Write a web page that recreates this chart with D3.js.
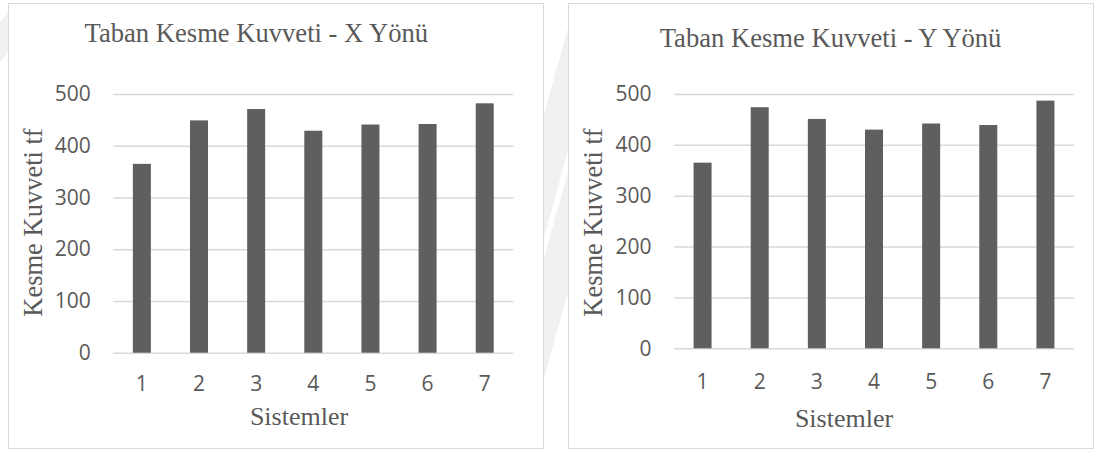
<!DOCTYPE html>
<html>
<head>
<meta charset="utf-8">
<script src="https://cdn.jsdelivr.net/npm/d3@7"></script>
<style>
  html, body { margin: 0; padding: 0; background: #ffffff; }
  svg { display: block; }
  .tick text { font-family: "Open Sans", sans-serif; font-size: 21px; fill: #595959; }
  .serif { font-family: "Liberation Serif", "Times New Roman", serif; fill: #595959; }
</style>
</head>
<body>
<svg id="chart" width="1100" height="452"></svg>
<script>
// Base shear per structural system (tf)
const systems = [1, 2, 3, 4, 5, 6, 7];
const shearX = [365, 449, 471, 429, 441, 442, 482];
const shearY = [365, 474, 451, 430, 442, 439, 487];
const yTicks = [0, 100, 200, 300, 400, 500];

const titleX = "Taban Kesme Kuvveti - X Yönü";
const titleY = "Taban Kesme Kuvveti - Y Yönü";
const yAxisTitle = "Kesme Kuvveti tf";
const xAxisTitle = "Sistemler";

const svg = d3.select("#chart");

// faint background stripes around the two panels
const bg = svg.append("g").attr("fill", "#f1f1f1");
[
  [[0, 22], [8, 12], [8, 52], [0, 62]],
  [[543, 118], [568, 28], [568, 150], [543, 242]],
  [[543, 262], [568, 172], [568, 292], [543, 382]]
].forEach(p => bg.append("polygon").attr("points", p.map(d => d.join(",")).join(" ")));

const panels = [
  {
    box: { x: 8.5, y: 3.5, w: 535, h: 445 },
    plot: { x0: 113.3, x1: 513.3, y0: 352.7, y1: 94 },
    values: shearX, title: titleX,
    titlePos: [256.3, 41.7], yTitlePos: [42, 222.5], xTitlePos: [299, 425],
    xPad: 23.4
  },
  {
    box: { x: 568.5, y: 3.5, w: 525, h: 445 },
    plot: { x0: 674, x1: 1074, y0: 348.3, y1: 94 },
    values: shearY, title: titleY,
    titlePos: [830.5, 46.7], yTitlePos: [601.5, 222.5], xTitlePos: [844, 427],
    xPad: 26
  }
];

panels.forEach(p => {
  const g = svg.append("g");

  g.append("rect")
    .attr("x", p.box.x).attr("y", p.box.y)
    .attr("width", p.box.w).attr("height", p.box.h)
    .attr("fill", "#ffffff").attr("stroke", "#d9d9d9").attr("stroke-width", 1);

  const x = d3.scaleBand()
    .domain(systems)
    .range([p.plot.x0, p.plot.x1])
    .paddingInner(0.685)
    .paddingOuter(0.685 / 2);

  const y = d3.scaleLinear()
    .domain([0, 500])
    .range([p.plot.y0, p.plot.y1]);

  // value axis with horizontal gridlines
  const yAxis = g.append("g")
    .attr("transform", `translate(${p.plot.x0},0)`)
    .call(d3.axisLeft(y).tickValues(yTicks)
      .tickSize(-(p.plot.x1 - p.plot.x0)).tickPadding(22.6));
  yAxis.select(".domain").remove();
  yAxis.selectAll(".tick line").attr("stroke", "#d9d9d9").attr("stroke-width", 1.5);

  // bars
  g.append("g").selectAll("rect")
    .data(systems)
    .join("rect")
    .attr("x", d => x(d))
    .attr("width", x.bandwidth())
    .attr("y", (d, i) => y(p.values[i]))
    .attr("height", (d, i) => y(0) - y(p.values[i]))
    .attr("fill", "#5f5f5f");

  // category axis
  const xAxis = g.append("g")
    .attr("transform", `translate(0,${p.plot.y0})`)
    .call(d3.axisBottom(x).tickSize(0).tickPadding(p.xPad));
  xAxis.select(".domain").remove();

  // titles
  g.append("text").attr("class", "serif")
    .attr("x", p.titlePos[0]).attr("y", p.titlePos[1])
    .attr("text-anchor", "middle").attr("font-size", 26.6)
    .text(p.title);

  g.append("text").attr("class", "serif")
    .attr("transform", `translate(${p.yTitlePos[0]},${p.yTitlePos[1]}) rotate(-90)`)
    .attr("text-anchor", "middle").attr("font-size", 26.5)
    .text(yAxisTitle);

  g.append("text").attr("class", "serif")
    .attr("x", p.xTitlePos[0]).attr("y", p.xTitlePos[1])
    .attr("text-anchor", "middle").attr("font-size", 26)
    .text(xAxisTitle);
});
</script>
</body>
</html>
